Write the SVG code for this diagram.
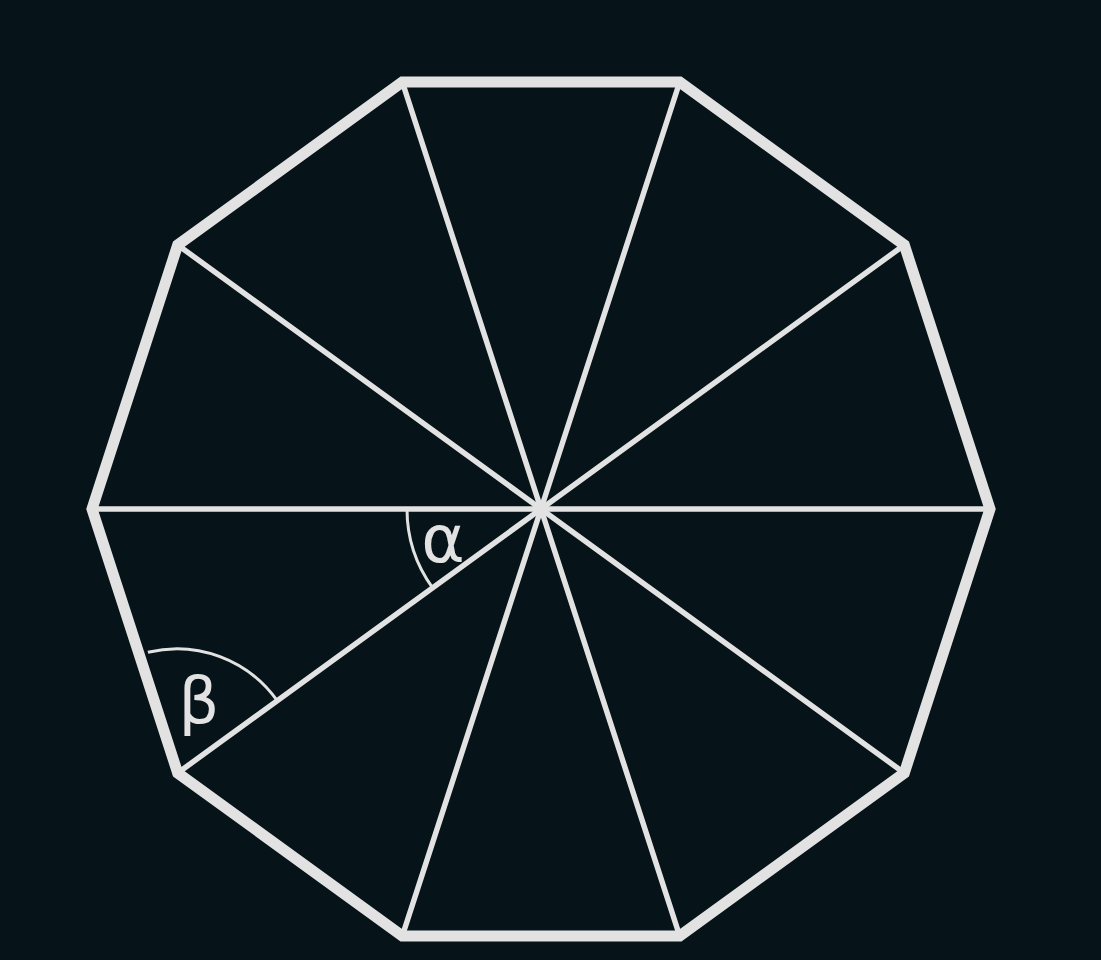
<svg xmlns="http://www.w3.org/2000/svg" width="1101" height="960" viewBox="0 0 1101 960">
<style>
.edge{fill:none;stroke:#e2e2e2;stroke-width:11;stroke-linejoin:miter}
.spoke{stroke:#e2e2e2;stroke-width:5.5;stroke-linecap:round}
.arc{fill:none;stroke:#e2e2e2;stroke-width:3}
.lbl{fill:#e2e2e2;font-family:"DejaVu Sans","Liberation Sans",sans-serif}
</style>
<rect width="1101" height="960" fill="#06141a"/>
<g id="connectors">
<line class="spoke" x1="541" y1="509" x2="402.3" y2="82"/>
<line class="spoke" x1="541" y1="509" x2="679.7" y2="82"/>
<line class="spoke" x1="541" y1="509" x2="904.3" y2="245"/>
<line class="spoke" x1="541" y1="509" x2="990" y2="509"/>
<line class="spoke" x1="541" y1="509" x2="904.3" y2="773"/>
<line class="spoke" x1="541" y1="509" x2="679.7" y2="936"/>
<line class="spoke" x1="541" y1="509" x2="402.3" y2="936"/>
<line class="spoke" x1="541" y1="509" x2="177.7" y2="773"/>
<line class="spoke" x1="541" y1="509" x2="92" y2="509"/>
<line class="spoke" x1="541" y1="509" x2="177.7" y2="245"/>
</g>
<g id="decagon">
<polygon class="edge" points="402.3,82 679.7,82 904.3,245 990,509 904.3,773 679.7,936 402.3,936 177.7,773 92,509 177.7,245"/>
</g>
<g id="alpha">
<path class="arc" d="M407,509 A134,134 0 0 0 432.6,587.8"/>
<text class="lbl" x="443" y="562" font-size="66" text-anchor="middle">α</text>
</g>
<g id="beta">
<path class="arc" d="M147.9,652.3 A123,123 0 0 1 277.2,700.7"/>
<text class="lbl" x="199" y="723" font-size="64" text-anchor="middle">β</text>
</g>
</svg>
